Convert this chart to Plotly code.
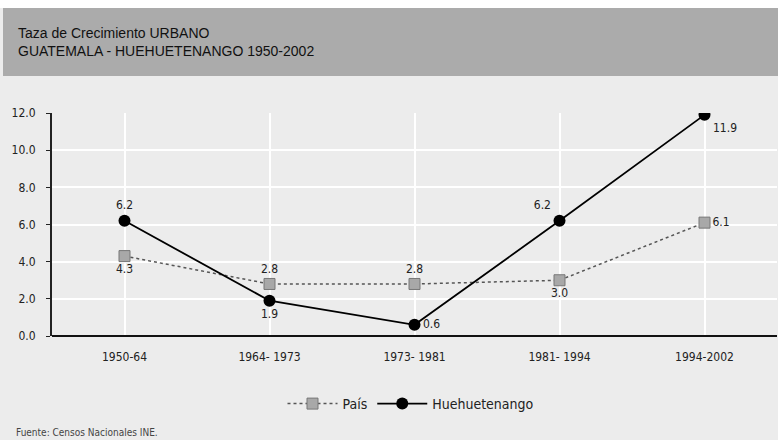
import plotly.graph_objects as go

categories = ["1950-64", "1964- 1973", "1973- 1981", "1981- 1994", "1994-2002"]
pais = [4.3, 2.8, 2.8, 3.0, 6.1]
huehue = [6.2, 1.9, 0.6, 6.2, 11.9]
pais_pos = ["bottom center", "top center", "top center", "bottom center", "middle right"]
huehue_pos = ["top center", "bottom center", "middle right", "top left", "bottom right"]
y_ticks = [0, 2, 4, 6, 8, 10, 12]
y_labels = ["0.0", "2.0", "4.0", "6.0", "8.0", "10.0", "12.0"]

W, H = 778, 440
L, R, T, B = 52, 1, 113, 104
pw, ph = W - L - R, H - T - B

def px(x):
    return (x - L) / pw

def py(y):
    return (H - B - y) / ph

fig = go.Figure()
fig.add_trace(go.Scatter(
    x=categories, y=pais, name="País", mode="lines+markers+text",
    line=dict(color="#555555", width=1.5, dash="dot"),
    marker=dict(symbol="square", size=11, color="#a8a8a8", line=dict(color="#777777", width=1)),
    text=[f"{v:.1f}" for v in pais], textposition=pais_pos,
    textfont=dict(family="DejaVu Sans Condensed", size=12, color="#222222"),
))
fig.add_trace(go.Scatter(
    x=categories, y=huehue, name="Huehuetenango", mode="lines+markers+text",
    line=dict(color="#000000", width=1.8),
    marker=dict(symbol="circle", size=12, color="#000000"),
    text=[f"{v:.1f}" for v in huehue], textposition=huehue_pos,
    textfont=dict(family="DejaVu Sans Condensed", size=12, color="#222222"),
))

fig.update_layout(
    width=W, height=H,
    margin=dict(l=L, r=R, t=T, b=B),
    paper_bgcolor="#ececec", plot_bgcolor="#ececec",
    font=dict(family="DejaVu Sans Condensed", size=11, color="#222222"),
    showlegend=True,
    legend=dict(orientation="h", x=px(411), xanchor="center", y=py(404), yanchor="middle",
                bgcolor="rgba(0,0,0,0)", font=dict(size=14), itemwidth=50),
    xaxis=dict(range=[-0.5, 4.5], showgrid=True, gridcolor="#ffffff", gridwidth=1.5,
               showline=False, zeroline=False, ticks="", tickfont=dict(size=12),
               ticklabelstandoff=12),
    yaxis=dict(range=[0, 12], tickvals=y_ticks, ticktext=y_labels, showgrid=True,
               gridcolor="#ffffff", gridwidth=1.5, showline=True, linecolor="#222222",
               linewidth=2, ticks="outside", ticklen=4, tickcolor="#222222",
               zeroline=True, zerolinecolor="#111111", zerolinewidth=2,
               tickfont=dict(size=12), ticklabelstandoff=8),
    shapes=[
        dict(type="rect", xref="paper", yref="paper", x0=px(0), x1=px(W), y0=py(8), y1=py(0),
             fillcolor="#ffffff", line=dict(width=0), layer="below"),
        dict(type="rect", xref="paper", yref="paper", x0=px(3), x1=px(W), y0=py(76), y1=py(8),
             fillcolor="#ababab", line=dict(width=0), layer="below"),
    ],
    annotations=[
        dict(text="Taza de Crecimiento URBANO<br>GUATEMALA - HUEHUETENANGO 1950-2002",
             xref="paper", yref="paper", x=px(16), y=py(42), xanchor="left", yanchor="middle",
             align="left", showarrow=False,
             font=dict(family="Liberation Sans", size=14, color="#111111")),
        dict(text="Fuente: Censos Nacionales INE.", xref="paper", yref="paper",
             x=px(14), y=py(432), xanchor="left", yanchor="middle", showarrow=False,
             font=dict(family="DejaVu Sans Condensed", size=10, color="#444444")),
    ],
)

fig.write_html("out.html", config={"displayModeBar": False},
               post_script="document.body.style.margin='0';document.body.style.padding='0';")
